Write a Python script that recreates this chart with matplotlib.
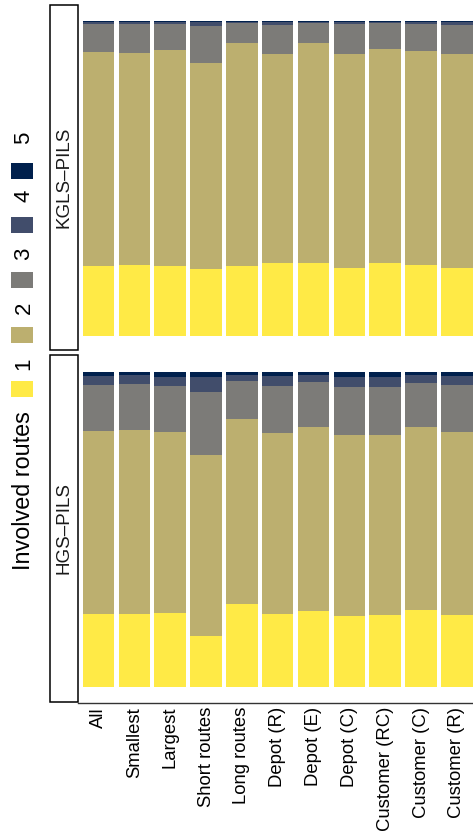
import matplotlib
matplotlib.use("Agg")
import matplotlib.pyplot as plt
from matplotlib.patches import Rectangle

plt.rcParams["font.family"] = ["Liberation Sans", "DejaVu Sans"]

W, H = 473, 839

categories = ["All", "Smallest", "Largest", "Short routes", "Long routes",
              "Depot (R)", "Depot (E)", "Depot (C)", "Customer (RC)",
              "Customer (C)", "Customer (R)"]
levels = ["1", "2", "3", "4", "5"]
# cividis, reversed so that one route is yellow
colors = ["#FFEA46", "#BCAF6F", "#7C7B78", "#414D6B", "#00204D"]

# share of moves by number of involved routes, KGLS-PILS
kgls_1 = [0.222, 0.225, 0.222, 0.213, 0.222, 0.232, 0.232, 0.216, 0.232, 0.225, 0.216]
kgls_2 = [0.680, 0.673, 0.686, 0.654, 0.708, 0.663, 0.698, 0.679, 0.679, 0.680, 0.679]
kgls_3 = [0.088, 0.092, 0.082, 0.117, 0.064, 0.092, 0.064, 0.095, 0.083, 0.085, 0.092]
kgls_4 = [0.007, 0.007, 0.007, 0.013, 0.003, 0.010, 0.003, 0.007, 0.003, 0.007, 0.010]
kgls_5 = [0.003, 0.003, 0.003, 0.003, 0.003, 0.003, 0.003, 0.003, 0.003, 0.003, 0.003]

# same for HGS-PILS
hgs_1 = [0.232, 0.232, 0.235, 0.162, 0.263, 0.232, 0.241, 0.225, 0.229, 0.244, 0.229]
hgs_2 = [0.581, 0.584, 0.575, 0.575, 0.588, 0.574, 0.584, 0.575, 0.571, 0.581, 0.581]
hgs_3 = [0.146, 0.146, 0.146, 0.200, 0.120, 0.150, 0.143, 0.152, 0.152, 0.140, 0.149]
hgs_4 = [0.028, 0.028, 0.028, 0.047, 0.019, 0.031, 0.022, 0.032, 0.032, 0.025, 0.028]
hgs_5 = [0.013, 0.010, 0.016, 0.016, 0.010, 0.013, 0.010, 0.016, 0.016, 0.010, 0.013]

panels = [
    ("KGLS\u2013PILS", [kgls_1, kgls_2, kgls_3, kgls_4, kgls_5]),
    ("HGS\u2013PILS", [hgs_1, hgs_2, hgs_3, hgs_4, hgs_5]),
]


def fx(px):
    return px / W


def fy(px):
    return 1 - px / H


def px_axes(left, top, right, bottom):
    return [fx(left), fy(bottom), (right - left) / W, (bottom - top) / H]


fig = plt.figure(figsize=(W / 100, H / 100), dpi=100)

# panel rows: (axes top, axes bottom, strip top, strip bottom) in pixels
rows = [(5.25, 351.75, 5, 350), (356.25, 702.75, 355, 702)]

x = list(range(len(categories)))
for i, ((name, shares), (top, bot, s_top, s_bot)) in enumerate(zip(panels, rows)):
    ax = fig.add_axes(px_axes(78, top, W, bot))
    base = [0.0] * len(x)
    for vals, col in zip(shares, colors):
        ax.bar(x, vals, bottom=base, width=0.88, color=col, linewidth=0)
        base = [b + v for b, v in zip(base, vals)]
    ax.set_xlim(-0.574, 10.45)
    ax.set_ylim(-0.05, 1.05)
    ax.set_yticks([])
    for side in ("top", "right", "left"):
        ax.spines[side].set_visible(False)
    if i == len(panels) - 1:
        ax.spines["bottom"].set_color("#333333")
        ax.spines["bottom"].set_linewidth(1.0)
        ax.set_xticks(x)
        ax.set_xticklabels(categories, rotation=90, ha="center", va="top",
                           fontsize=13.3, color="black")
        ax.tick_params(axis="x", length=0, pad=3)
    else:
        ax.spines["bottom"].set_visible(False)
        ax.set_xticks([])

    # facet strip on the left
    fig.patches.append(Rectangle((fx(50), fy(s_bot)), fx(78) - fx(50),
                                 (s_bot - s_top) / H, transform=fig.transFigure,
                                 facecolor="white", edgecolor="black", lw=1.1))
    fig.text(fx(64), fy((s_top + s_bot) / 2), name, rotation=90,
             ha="center", va="center", fontsize=13.5, color="#1A1A1A")

# legend, drawn sideways like the rest of the figure
key_y = [389, 335, 280, 225, 171]
label_y = [364, 308, 254, 196, 138]
for lab, col, ky, ly in zip(levels, colors, key_y, label_y):
    fig.patches.append(Rectangle((fx(11), fy(ky + 8)), fx(33) - fx(11), 16 / H,
                                 transform=fig.transFigure, facecolor=col,
                                 edgecolor="none"))
    fig.text(fx(24), fy(ly), lab, rotation=90, ha="center", va="center",
             fontsize=16, color="black")
fig.text(fx(23), fy(491), "Involved routes", rotation=90, ha="center",
         va="center", fontsize=16.8, color="black")

fig.savefig("out.png", dpi=100, facecolor="white")
